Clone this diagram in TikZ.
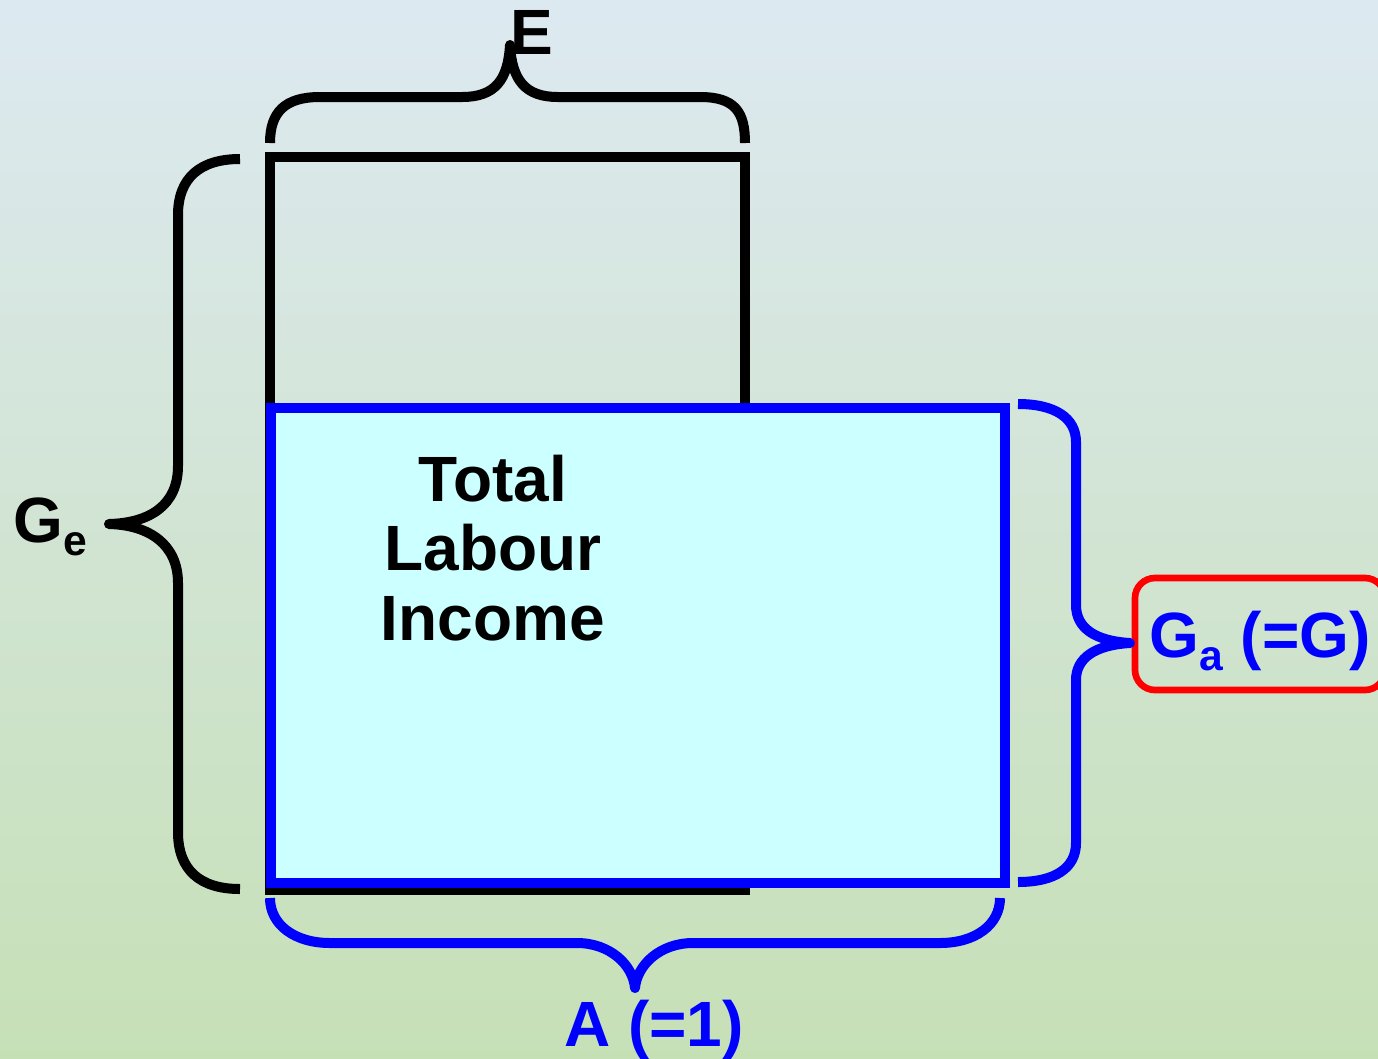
\documentclass[tikz,border=0pt]{standalone}
\usepackage{fontspec}
\setmainfont{Liberation Sans}
\usetikzlibrary{positioning}
\definecolor{bgtop}{RGB}{221,233,241}
\definecolor{bgbot}{RGB}{198,224,182}
\definecolor{paleaqua}{RGB}{204,255,255}
\newcommand{\subl}[1]{\raisebox{-10pt}{\fontsize{32}{32}\selectfont #1}}

\begin{document}
\begin{tikzpicture}[x=0.75pt,y=-0.75pt,
  lbl/.style={font=\fontsize{48}{52}\selectfont\bfseries, inner sep=0pt},
  brc/.style={line width=7.5pt, line join=round},
  frame/.style={line width=7.5pt}]
  \useasboundingbox (0,0) rectangle (1378,1058);
  \shade[top color=bgtop, bottom color=bgbot] (0,0) rectangle (1378,1058);
  % the two areas
  \draw[frame] (270,157) rectangle (745,890);
  \draw[frame, draw=blue, fill=paleaqua] (271,408) rectangle (1005,883);
  % labels
  \node[lbl, anchor=base] (e) at (532,54) {E};
  \node[lbl, anchor=base west] (ge) at (13,542) {G\subl{e}};
  \node[lbl, align=center, anchor=base] (tli) at (493,640) {Total\\Labour\\Income};
  \node[lbl, text=blue, anchor=base] (a) at (654,1046) {A (=1)};
  \node[lbl, text=blue, draw=red, line width=5pt, rounded corners=15pt, text depth=0pt,
    minimum width=187.5pt, minimum height=84pt] (ga) at (1260,634) {G\subl{a} (=G)};
  % braces
  \draw[brc] (270,143) .. controls (270,112) and (285,97) .. (320,97) -- (462,97)
    .. controls (495,97) and (508,80) .. (510,45)
    .. controls (512,80) and (525,97) .. (558,97) -- (700,97)
    .. controls (735,97) and (745,112) .. (745,143);
  \draw[brc] (240,159) .. controls (200,159) and (178,178) .. (178,215) -- (178,466)
    .. controls (178,505) and (150,523) .. (109,524)
    .. controls (150,525) and (178,545) .. (178,583) -- (178,832)
    .. controls (178,870) and (200,889) .. (240,889);
  \draw[brc, draw=blue] (1018,404) .. controls (1055,404) and (1076,418) .. (1076,442) -- (1076,605)
    .. controls (1076,628) and (1095,641) .. (1130,643)
    .. controls (1095,645) and (1076,658) .. (1076,680) -- (1076,843)
    .. controls (1076,868) and (1055,882) .. (1018,882);
  \draw[brc, draw=blue] (270,898) .. controls (270,925) and (295,943) .. (330,943) -- (577,943)
    .. controls (610,943) and (633,965) .. (635,988)
    .. controls (637,965) and (660,943) .. (693,943) -- (940,943)
    .. controls (975,943) and (1000,925) .. (1000,898);
\end{tikzpicture}
\end{document}
